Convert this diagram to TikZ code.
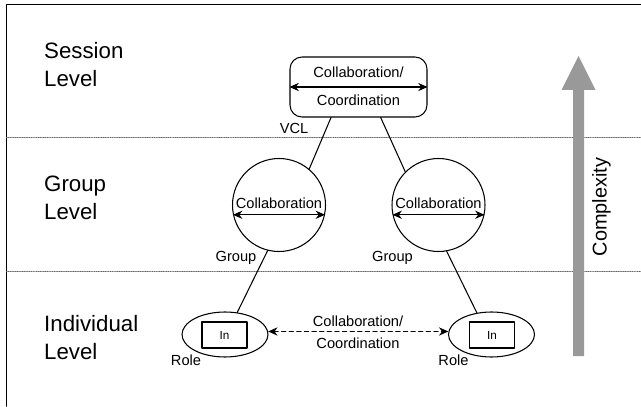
\documentclass[tikz,border=0pt]{standalone}
\usepackage{fontspec}
\setmainfont{Liberation Sans}
\usetikzlibrary{shapes.geometric,arrows.meta}
\definecolor{arrowgray}{RGB}{153,153,153}

\begin{document}
\begin{tikzpicture}[line cap=round,line join=round,>={Stealth[length=8pt,width=7pt]},x=1cm,y=1cm,
		lvl/.style={anchor=west,align=left,inner sep=0pt,font=\fontsize{19}{24}\selectfont},
		lbl/.style={inner sep=0pt,font=\fontsize{12.5}{15}\selectfont},
		sep/.style={black!60,line width=0.6pt,dash pattern=on 0.6pt off 0.9pt},
		link/.style={line width=0.9pt},
		both/.style={<->,line width=1.1pt}]
	\useasboundingbox (0,0) rectangle (19.23,12.18);
	% frame and level separators
	\draw [line width=1.6pt] (0.195,0) -- (0.195,12.045) -- (19.23,12.045);
	\draw [sep] (0.195,8.055) -- (19.23,8.055);
	\draw [sep] (0.195,4.035) -- (19.23,4.035);
	% level names
	\node [lvl] (session) at (1.32,10.245) {Session\\Level};
	\node [lvl] (group) at (1.32,6.255) {Group\\Level};
	\node [lvl] (indiv) at (1.32,2.055) {Individual\\Level};
	% session level
	\node [draw,link,rounded corners=0.36cm,minimum width=4.11cm,minimum height=1.8cm] (vcl) at (10.755,9.57) {};
	\draw [both] (vcl.west) -- (vcl.east);
	\node [lbl] (vcltop) at (10.755,10.02) {Collaboration/};
	\node [lbl] (vclbot) at (10.755,9.18) {Coordination};
	\node [lbl] (vclname) at (8.82,8.34) {VCL};
	% group level
	\node [circle,draw,link,minimum size=2.79cm,inner sep=0pt] (grpA) at (8.37,6.03) {};
	\node [circle,draw,link,minimum size=2.79cm,inner sep=0pt] (grpB) at (13.155,6.03) {};
	\node [lbl] (grpAtext) at (8.37,6.09) {Collaboration};
	\node [lbl] (grpBtext) at (13.155,6.09) {Collaboration};
	\draw [both] (grpA.192) -- (grpA.348);
	\draw [both] (grpB.192) -- (grpB.348);
	\node [lbl] (grpAname) at (7.08,4.44) {Group};
	\node [lbl] (grpBname) at (11.775,4.44) {Group};
	% individual level
	\node [ellipse,draw,link,minimum width=2.58cm,minimum height=1.35cm,inner sep=0pt] (roleA) at (6.75,2.145) {};
	\node [ellipse,draw,link,minimum width=2.58cm,minimum height=1.35cm,inner sep=0pt] (roleB) at (14.745,2.145) {};
	\node [draw,link,minimum width=1.35cm,minimum height=0.78cm,font=\fontsize{10}{12}\selectfont] (inA) at (6.735,2.13) {In};
	\node [draw,link,minimum width=1.35cm,minimum height=0.78cm,font=\fontsize{10}{12}\selectfont] (inB) at (14.76,2.13) {In};
	\node [lbl] (roleAname) at (5.58,1.38) {Role};
	\node [lbl] (roleBname) at (13.605,1.38) {Role};
	\draw [both,dash pattern=on 3.5pt off 3pt] (roleA.4) -- (roleB.176);
	\node [lbl] (dashtop) at (10.74,2.53) {Collaboration/};
	\node [lbl] (dashbot) at (10.74,1.89) {Coordination};
	% tree edges
	\draw [link] (vcl.228) -- (grpA.50);
	\draw [link] (vcl.306) -- (grpB.135);
	\draw [link] (grpA.256) -- (roleA.61);
	\draw [link] (grpB.280) -- (roleB.124);
	% complexity axis
	\fill [arrowgray] (17.19,1.5) -- (17.52,1.5) -- (17.52,9.48) -- (17.865,9.48) -- (17.355,10.5) -- (16.845,9.48) -- (17.19,9.48) -- cycle;
	\node [rotate=90,inner sep=0pt,font=\fontsize{17}{20}\selectfont] (cplx) at (18.045,5.97) {Complexity};
\end{tikzpicture}
\end{document}
